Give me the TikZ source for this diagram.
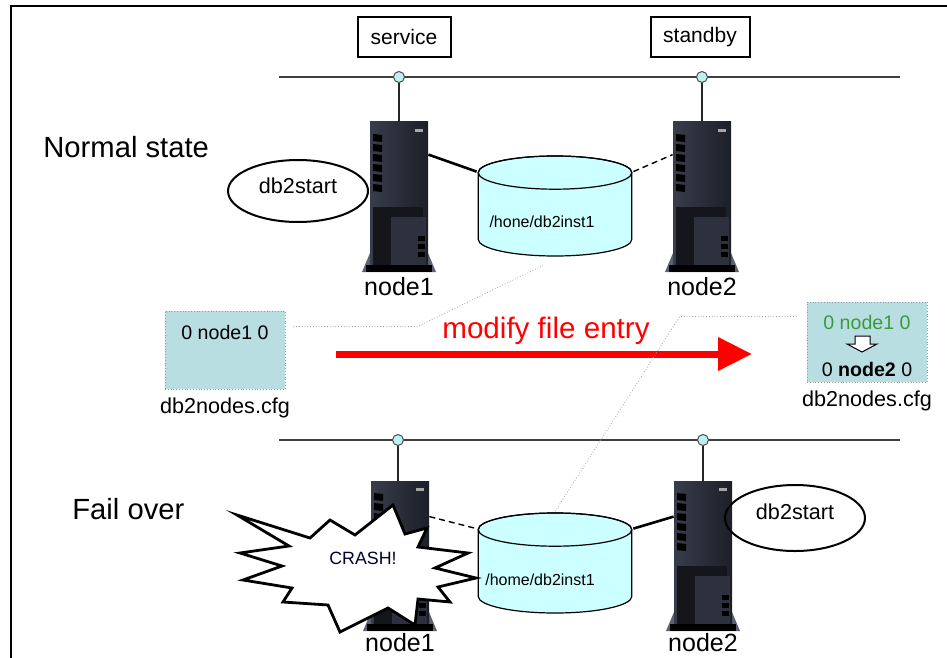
\documentclass[tikz,border=0pt]{standalone}
\usepackage{fontspec}
\setmainfont{Liberation Sans}
\usetikzlibrary{positioning,calc,arrows.meta,shapes.geometric}

\definecolor{srvdark}{HTML}{1C1F27}
\definecolor{srvmid}{HTML}{383D4C}
\definecolor{srvfoot}{HTML}{5C6272}
\definecolor{diskfill}{HTML}{CCFFFF}
\definecolor{cfgfill}{HTML}{B8DEE2}
\definecolor{hubfill}{HTML}{BFF0F0}
\definecolor{oldentry}{HTML}{3C9A3C}

\begin{document}
\begin{tikzpicture}[x=0.5pt,y=-0.5pt,
    bus/.style={draw=black!75,line width=0.8pt},
    hub/.style={circle,draw=black!70,fill=hubfill,inner sep=0pt,minimum size=5.5pt,line width=0.5pt},
    role/.style={draw,line width=1pt,minimum width=46.5pt,minimum height=20pt,font=\fontsize{10.5}{12}\selectfont},
    state/.style={anchor=base west,inner sep=0pt,font=\fontsize{14.6}{17}\selectfont},
    hostname/.style={inner sep=0pt,font=\fontsize{12.5}{14}\selectfont},
    disk/.style={minimum width=78pt,minimum height=51pt,inner sep=0pt,
      path picture={
        \coordinate (dt) at ($(path picture bounding box.north)+(0pt,-8.8pt)$);
        \coordinate (db) at ($(path picture bounding box.south)+(0pt,8.8pt)$);
        \filldraw[fill=diskfill,line width=0.6pt]
          ($(dt)+(-38.4pt,0pt)$) -- ($(db)+(-38.4pt,0pt)$)
          arc[start angle=180,end angle=360,x radius=38.4pt,y radius=8.3pt]
          -- ($(dt)+(38.4pt,0pt)$)
          arc[start angle=0,end angle=180,x radius=38.4pt,y radius=8.3pt] -- cycle;
        \draw[line width=0.6pt] (dt) ellipse[x radius=38.4pt,y radius=8.3pt];
      }},
    disktext/.style={inner sep=0pt,font=\fontsize{8}{9}\selectfont},
    daemon/.style={ellipse,draw,line width=1pt,minimum width=70pt,minimum height=31pt,inner sep=0pt,font=\fontsize{10.8}{12}\selectfont},
    cfgbox/.style={draw=black!40,densely dotted,fill=cfgfill,minimum width=60pt,minimum height=39pt},
    cfgtext/.style={inner sep=0pt,font=\fontsize{9.8}{11}\selectfont},
    cfgname/.style={inner sep=0pt,font=\fontsize{10.8}{12}\selectfont},
    guide/.style={draw=black!35,densely dotted,line width=0.4pt},
    burst/.style={draw,fill=white,line width=1.4pt,line join=miter},
    tower/.style={minimum width=38pt,minimum height=75pt,inner sep=0pt,
      path picture={
        \path (path picture bounding box.north west) coordinate (tw);
        % flared foot
        \fill[srvfoot] ($(tw)+(1,150)$) -- ++(74,0) -- ++(-8,-19) -- ++(-58,0) -- cycle;
        % cabinet
        \shade[left color=srvmid,right color=srvdark] ($(tw)+(9,0)$) rectangle ++(58,146);
        % drive vents
        \foreach \v in {0,...,5}
          \fill[black] ($(tw)+(12,12+10*\v)$) -- ++(9,1) -- ++(0,7) -- ++(-9,-1) -- cycle;
        % lower bay
        \fill[srvdark!70!black] ($(tw)+(12,85)$) rectangle ++(50,58);
        \fill[srvmid!80!black] ($(tw)+(30,95)$) rectangle ++(35,48);
        \foreach \v in {0,1,2}
          \fill[black] ($(tw)+(57,114+8*\v)$) rectangle ++(7,5);
        % badge
        \fill[black!35] ($(tw)+(54,7)$) rectangle ++(8,3);
        % base strip
        \fill[black] ($(tw)+(5,143)$) rectangle ++(66,7);
      }}
  ]
    \useasboundingbox (0,0) rectangle (947,658);

    % frame
    \draw[line width=1pt] (11,658) -- (11,6) -- (947,6);

    % roles
    \node[role] (service) at (404,37) {service};
    \node[role,minimum width=49.5pt] (standby) at (700,37) {standby};

    % Normal state
    \node[state] (lblnormal) at (43,157) {Normal state};

    \coordinate (busAw) at (279,77);
    \coordinate (busAe) at (900,77);
    \draw[bus] (busAw) -- (busAe);

    \node[tower] (n1a) at (399,197) {};
    \node[tower] (n2a) at (702,197) {};
    \node[hub] (h1a) at (n1a.north |- busAw) {};
    \node[hub] (h2a) at (n2a.north |- busAw) {};
    \draw[bus,draw=black!85] (h1a) -- (n1a);
    \draw[bus,draw=black!85] (h2a) -- (n2a);
    \node[hostname,below=2.5pt of n1a] (n1aname) {node1};
    \node[hostname,below=2.5pt of n2a] (n2aname) {node2};

    \node[disk] (diska) at (555,206) {};
    \node[disktext] (diskatxt) at (542,222) {/hone/db2inst1};
    \draw[line width=1.3pt] ($(n1a.north east)+(-9,33)$) -- ($(diska.north west)+(0,17)$);
    \draw[densely dashed,line width=0.7pt] ($(diska.north east)+(0,17)$) -- ($(n2a.north west)+(9,33)$);

    \node[daemon] (starta) at (298,191) {\raisebox{5.5pt}{db2start}};

    % db2nodes.cfg before and after
    \node[cfgbox] (cfgold) at (225,350) {};
    \node[cfgtext] (cfgoldline) at (225,332) {0 node1 0};
    \node[cfgname,below=4pt of cfgold] (cfgoldname) {db2nodes.cfg};

    \node[cfgbox,minimum height=40pt] (cfgnew) at (867,342) {};
    \node[cfgtext,text=oldentry] (cfgnewold) at (867,322) {0 node1 0};
    \draw[fill=white,line width=0.5pt,shift={(862,344)}]
      (-7,-8) -- (8,-8) -- (8,0) -- (15,0) -- (0,8) -- (-15,0) -- (-7,0) -- cycle;
    \node[cfgtext] (cfgnewline) at (867,369) {0 \textbf{node2} 0};
    \node[cfgname,below=4pt of cfgnew] (cfgnewname) {db2nodes.cfg};

    % modify file entry
    \coordinate (modfrom) at (336,354);
    \coordinate (modto) at (752,354);
    \draw[red,line width=3.5pt,-{Triangle[length=17pt,width=16pt]}] (modfrom) -- (modto);
    \node[red,anchor=base,inner sep=0pt,font=\fontsize{14.8}{17}\selectfont] (modlbl) at (546,338) {modify file entry};

    % Fail over
    \node[state] (lblfail) at (72,519) {Fail over};

    \coordinate (busBw) at (279,440);
    \coordinate (busBe) at (900,440);
    \draw[bus] (busBw) -- (busBe);

    \node[tower] (n1b) at (400,556) {};
    \node[tower] (n2b) at (703,556) {};
    \node[hub] (h1b) at (398,440) {};
    \node[hub] (h2b) at (n2b.north |- busBw) {};
    \draw[bus,draw=black!85] (h1b) -- (h1b |- n1b.north);
    \draw[bus,draw=black!85] (h2b) -- (n2b);
    \node[hostname,below=1pt of n1b] (n1bname) {node1};
    \node[hostname,below=1pt of n2b] (n2bname) {node2};

    \node[disk] (diskb) at (555,563) {};
    \node[disktext] (diskbtxt) at (540,580) {/home/db2inst1};
    \draw[densely dashed,line width=0.7pt] ($(n1b.north east)+(-9,36)$) -- ($(diskb.north west)+(0,17)$);
    \draw[line width=1.3pt] ($(diskb.north east)+(0,17)$) -- ($(n2b.north west)+(9,36)$);

    % crash burst
    \draw[burst] (237,515) -- (310,538) -- (330,520) -- (355,535) -- (393,505) -- (405,534)
      -- (427,528) -- (418,547) -- (468,553) -- (435,568) -- (476,578) -- (438,587)
      -- (450,602) -- (418,599) -- (415,625) -- (388,608) -- (340,632) -- (328,605)
      -- (283,602) -- (292,588) -- (243,580) -- (282,566) -- (240,553) -- (289,546) -- cycle;
    \node[text=black!80!blue,font=\fontsize{8.9}{10}\selectfont] (crash) at (363,558) {CRASH!};

    \node[daemon,minimum height=33pt] (startb) at (795,518) {\raisebox{6pt}{db2start}};

    % dotted guides to the config file
    \draw[guide] ($(cfgold.north east)+(8,16)$) -- ++(124,0) -- ($(diska.south)+(-12,8)$);
    \draw[guide] ($(cfgnew.north west)+(-10,15)$) -- ++(-117,0) -- (diskb.north);
\end{tikzpicture}
\end{document}
